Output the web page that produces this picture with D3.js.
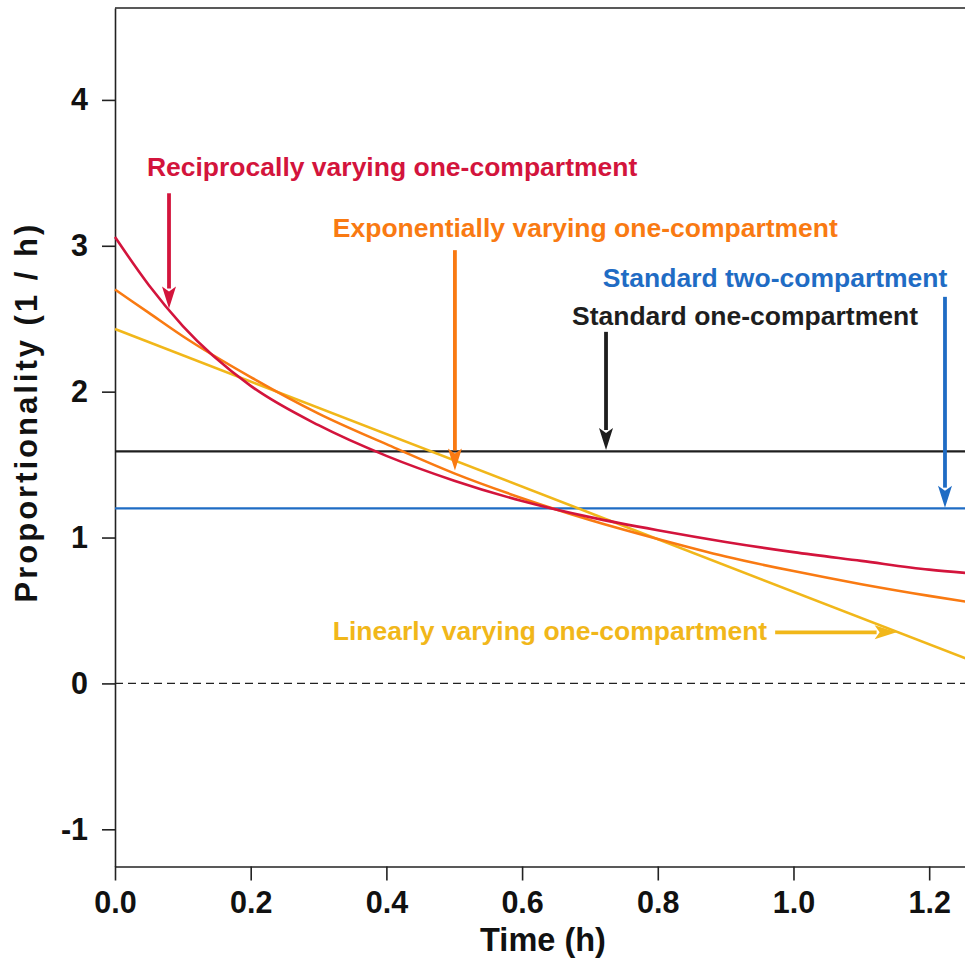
<!DOCTYPE html>
<html>
<head>
<meta charset="utf-8">
<script src="https://cdn.jsdelivr.net/npm/d3@7"></script>
<style>
body { margin: 0; background: #fff; }
text { font-family: "Liberation Sans", Arial, Helvetica, sans-serif; font-weight: bold; }
</style>
</head>
<body>
<div class="chart"></div>
<script>
// values, time in h
var time        = [0, 0.05, 0.1, 0.2, 0.3, 0.4, 0.5, 0.6, 0.7, 0.8, 0.9, 1.0, 1.1, 1.2, 1.26];
var reciprocal  = [3.06, 2.73, 2.45, 2.04, 1.77, 1.56, 1.39, 1.25, 1.14, 1.05, 0.97, 0.90, 0.84, 0.78, 0.755];
var exponential = [2.70, 2.54, 2.38, 2.10, 1.85, 1.64, 1.44, 1.27, 1.12, 0.99, 0.87, 0.77, 0.68, 0.60, 0.556];
var linearTime  = [0, 1.26];
var linear      = [2.43, 0.16];
var oneCompartment = 1.59;
var twoCompartment = 1.20;

var xTicks = [0, 0.2, 0.4, 0.6, 0.8, 1.0, 1.2];
var yTicks = [-1, 0, 1, 2, 3, 4];

var modelNames = [
	'Reciprocally varying one-compartment',
	'Exponentially varying one-compartment',
	'Standard two-compartment',
	'Standard one-compartment',
	'Linearly varying one-compartment'
];

var margin = { top: 8, right: 0, bottom: 93.5, left: 115 };

var width = 965 - margin.left - margin.right;
var height = 960 - margin.top - margin.bottom;

var svg = d3.select('.chart')
	.append('svg')
		.attr('width', width + margin.left + margin.right)
		.attr('height', height + margin.top + margin.bottom)
	.append('g')
		.attr('transform', `translate(${margin.left}, ${margin.top})`);

var xScale = d3.scaleLinear()
	.domain([0, 1.2528])
	.range([0, width]);

var yScale = d3.scaleLinear()
	.domain([-1.255, 4.63])
	.range([height, 0]);

var colors = {
	red: '#d3143c',
	orange: '#f97a12',
	yellow: '#f1b71a',
	blue: '#1f6cc4',
	black: '#1e1e1e'
};

// axes
var yAxis = d3.axisLeft(yScale)
	.tickValues(yTicks)
	.tickFormat(d => String(d))   // plain hyphen for -1
	.tickSize(13)
	.tickSizeOuter(0)
	.tickPadding(14);

var xAxis = d3.axisBottom(xScale)
	.tickValues(xTicks)
	.tickFormat(d => d.toFixed(1))
	.tickSize(14)
	.tickSizeOuter(0)
	.tickPadding(11);

svg.append('g')
	.attr('class', 'y axis')
	.call(yAxis);

svg.append('g')
	.attr('class', 'x axis')
	.attr('transform', `translate(0, ${height})`)
	.call(xAxis);

svg.selectAll('.axis path, .axis line')
	.attr('stroke', '#222')
	.attr('stroke-width', 1.6);

svg.selectAll('.axis text')
	.attr('fill', '#111')
	.style('font-size', '30.5px');

// top frame line
svg.append('line')
	.attr('x1', 0)
	.attr('x2', width)
	.attr('y1', 0)
	.attr('y2', 0)
	.attr('stroke', '#222')
	.attr('stroke-width', 1.6);

// axis titles
svg.append('text')
	.attr('x', 428)
	.attr('y', height + 84)
	.attr('text-anchor', 'middle')
	.attr('fill', '#111')
	.style('font-size', '32.5px')
	.text('Time (h)');

svg.append('text')
	.attr('transform', `translate(${-78}, ${yScale(1.86)}) rotate(-90)`)
	.attr('text-anchor', 'middle')
	.attr('fill', '#111')
	.style('font-size', '31px')
	.style('letter-spacing', '3px')
	.text('Proportionality (1 / h)');

// zero reference
svg.append('line')
	.attr('x1', 0)
	.attr('x2', width)
	.attr('y1', yScale(0))
	.attr('y2', yScale(0))
	.attr('stroke', '#222')
	.attr('stroke-width', 1.4)
	.attr('stroke-dasharray', '8,5');

// constant models
svg.append('line')
	.attr('x1', 0)
	.attr('x2', width)
	.attr('y1', yScale(oneCompartment))
	.attr('y2', yScale(oneCompartment))
	.attr('stroke', colors.black)
	.attr('stroke-width', 2.2);

svg.append('line')
	.attr('x1', 0)
	.attr('x2', width)
	.attr('y1', yScale(twoCompartment))
	.attr('y2', yScale(twoCompartment))
	.attr('stroke', colors.blue)
	.attr('stroke-width', 2.2);

// varying models
var line = d3.line()
	.x(d => xScale(d[0]))
	.y(d => yScale(d[1]))
	.curve(d3.curveMonotoneX);

var curves = [
	{ values: d3.zip(linearTime, linear), color: colors.yellow },
	{ values: d3.zip(time, exponential), color: colors.orange },
	{ values: d3.zip(time, reciprocal), color: colors.red }
];

svg.selectAll('.curve')
	.data(curves)
	.enter()
	.append('path')
	.attr('class', 'curve')
	.attr('d', d => line(d.values))
	.attr('fill', 'none')
	.attr('stroke', d => d.color)
	.attr('stroke-width', 2.6);

// labels and arrows, placed in data units
var notes = [
	{ name: modelNames[0], color: colors.red,    tx: 0.047, ty: 3.48,  from: [0.0796, 3.36], to: [0.0796, 2.57] },
	{ name: modelNames[1], color: colors.orange, tx: 0.321, ty: 3.06,  from: [0.501, 2.97],  to: [0.501, 1.46] },
	{ name: modelNames[2], color: colors.blue,   tx: 0.719, ty: 2.72,  from: [1.2233, 2.65], to: [1.2233, 1.205] },
	{ name: modelNames[3], color: colors.black,  tx: 0.6735, ty: 2.455, from: [0.7237, 2.41], to: [0.7237, 1.60] },
	{ name: modelNames[4], color: colors.yellow, tx: 0.321, ty: 0.295, from: [0.973, 0.35],  to: [1.152, 0.35] }
];

svg.selectAll('.note')
	.data(notes)
	.enter()
	.append('text')
	.attr('class', 'note')
	.attr('x', d => xScale(d.tx))
	.attr('y', d => yScale(d.ty))
	.attr('fill', d => d.color)
	.style('font-size', '26.5px')
	.text(d => d.name);

var headLen = 22, headHalf = 7;

notes.forEach(function(d) {
	var x1 = xScale(d.from[0]), y1 = yScale(d.from[1]);
	var x2 = xScale(d.to[0]), y2 = yScale(d.to[1]);
	var dx = x2 - x1, dy = y2 - y1;
	var len = Math.sqrt(dx * dx + dy * dy);
	var ux = dx / len, uy = dy / len;
	var bx = x2 - ux * headLen, by = y2 - uy * headLen;

	svg.append('line')
		.attr('x1', x1)
		.attr('y1', y1)
		.attr('x2', bx + ux * 2)
		.attr('y2', by + uy * 2)
		.attr('stroke', d.color)
		.attr('stroke-width', 3.8);

	svg.append('path')
		.attr('d', `M${x2},${y2}L${bx - uy * headHalf},${by + ux * headHalf}L${bx + ux * 5},${by + uy * 5}L${bx + uy * headHalf},${by - ux * headHalf}Z`)
		.attr('fill', d.color);
});
</script>
</body>
</html>
